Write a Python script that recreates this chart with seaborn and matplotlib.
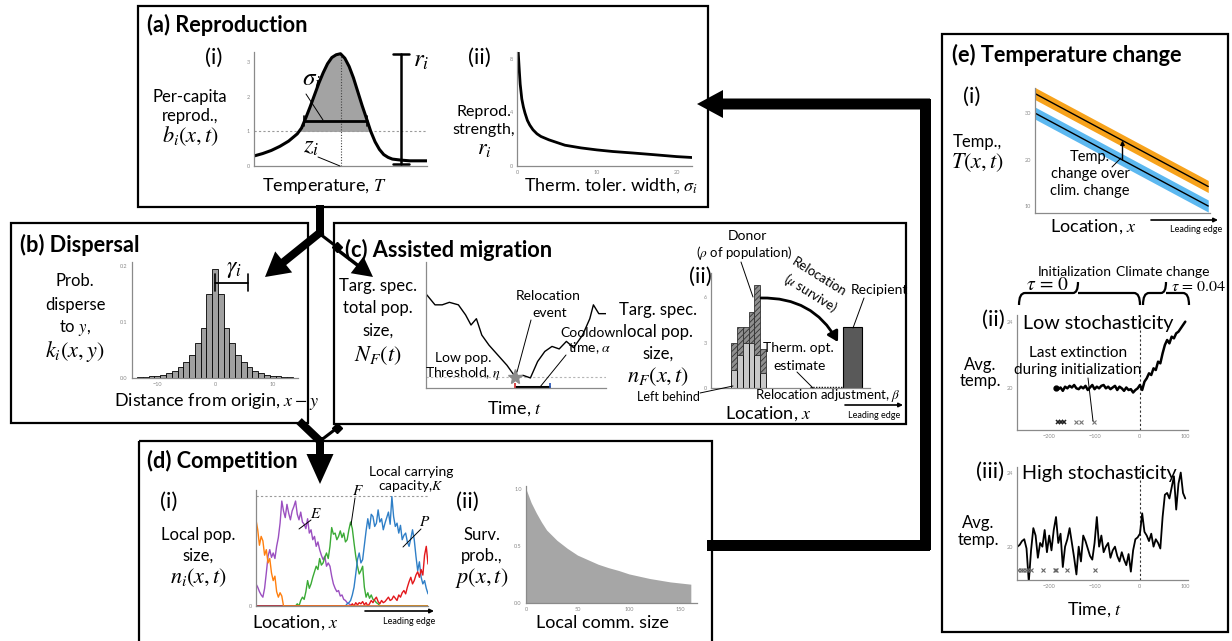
import matplotlib
matplotlib.use("Agg")
import numpy as np
import pandas as pd
import matplotlib.pyplot as plt
import seaborn as sns
from matplotlib.patches import FancyArrow, FancyArrowPatch, Rectangle, PathPatch, Polygon
from matplotlib.path import Path

# ---------------- data ----------------
# (a)(i) per-capita reproduction against temperature
temperature = [0.0, 0.5, 1.0, 1.5, 2.0, 2.5, 2.75, 3.0, 3.25, 3.5, 3.75, 4.0, 4.25, 4.5, 4.75, 5.0,
               5.25, 5.5, 5.75, 6.0, 6.25, 6.5, 6.75, 7.0, 7.25, 7.5, 7.75, 8.0, 8.5, 9.0, 10.0]
birth_rate = [0.29, 0.36, 0.45, 0.57, 0.72, 0.93, 1.10, 1.40, 1.72, 2.06, 2.40, 2.70, 2.96, 3.14, 3.22, 3.25,
              3.12, 2.88, 2.55, 2.15, 1.75, 1.38, 1.00, 0.70, 0.48, 0.33, 0.25, 0.20, 0.17, 0.15, 0.15]
# (a)(ii) reproductive strength against thermal tolerance width
tol_width = [0.15, 0.3, 0.4, 0.6, 0.8, 1.0, 1.3, 1.6, 2.0, 2.5, 3.0, 4.0, 5.0, 6.0, 8.0, 10.0, 12.0, 14.5,
             17.0, 20.0, 22.0]
repro_strength = [8.5, 7.0, 6.1, 5.0, 4.4, 3.95, 3.4, 3.05, 2.7, 2.4, 2.2, 1.95, 1.75, 1.55, 1.35, 1.2, 1.08,
                  0.97, 0.85, 0.7, 0.63]
# (b) dispersal kernel
disp_dist = list(range(-13, 14))
disp_prob = [0.001, 0.002, 0.003, 0.004, 0.006, 0.009, 0.013, 0.019, 0.028, 0.041, 0.062, 0.090, 0.150,
             0.195,
             0.150, 0.090, 0.062, 0.041, 0.028, 0.019, 0.013, 0.009, 0.006, 0.004, 0.003, 0.002, 0.001]
# (c)(i) total population of the focal species over time
am_time = [0.4, 5, 9, 13, 18, 22, 25, 28, 31, 35, 40, 45, 49.5, 54, 58, 62, 66, 70, 74, 78, 82, 87, 91, 93, 96, 100]
am_pop = [7.4, 6.6, 6.6, 6.8, 6.6, 5.8, 5.0, 5.5, 4.2, 3.4, 2.6, 1.8, 0.9, 1.0, 0.8, 2.1, 2.9, 3.3, 3.1, 3.7,
          3.2, 4.2, 5.5, 6.6, 5.9, 5.9]
low_threshold = 0.9
relocation_time = 49.5
cooldown_end = 69
# (c)(ii) local population of the focal species
donor_loc = [4, 5, 6, 7, 8, 9]
left_behind = [1.2, 2.2, 3.0, 3.0, 2.2, 1.0]
donor_total = [3.0, 4.0, 4.0, 5.0, 6.8, 2.6]
recipient_loc = 24.5
recipient_pop = 4.0
therm_opt_estimate = 17.2
# (d)(i) local population sizes along the landscape
location = list(range(101))
pop_orange = [7.8, 6.9, 5.5, 6.3, 5.9, 4.6, 5.1, 3.9, 4.3, 3.0, 2.3, 2.7, 1.3, 0.8, 1.2, 0.9] + [0.0] * 85
pop_purple = ([2.0, 1.7, 1.3, 1.0, 0.8, 1.6, 3.0, 4.5, 5.1, 4.4, 4.8, 4.3, 5.4, 6.2, 7.5, 9.5, 8.6, 8.0, 9.2, 8.4,
               7.8, 8.6, 9.0, 9.5, 8.3, 7.8, 8.5, 7.6, 7.4, 7.0, 7.9, 6.6, 6.9, 6.0, 6.3, 5.4, 5.8, 5.1, 4.6, 4.2,
               4.5, 3.6, 3.9, 3.6, 2.7, 2.0, 1.6, 1.3, 1.4, 0.9, 1.0, 0.6, 0.5, 0.3, 0.2, 0.1] + [0.0] * 45)
pop_green = ([0.0] * 24 +
             [0.2, 0.0, 0.5, 0.8, 0.6, 1.3, 2.3, 1.6, 2.0, 2.6, 3.1, 3.6, 3.3, 4.3, 3.7, 3.9, 4.4, 4.8, 4.3, 5.4,
              7.1, 6.5, 6.6, 6.0, 6.3, 6.8, 6.2, 6.6, 5.8, 6.0, 6.9, 7.6, 7.0, 5.7, 4.5, 3.6, 2.9, 3.2, 3.6, 1.7,
              0.8, 1.2, 0.7, 1.0, 0.6, 0.5, 0.3, 0.2] + [0.0] * 29)
pop_blue = ([0.0] * 53 +
            [0.2, 0.3, 0.5, 1.0, 1.7, 2.9, 4.2, 4.8, 3.9, 4.2, 5.5, 6.8, 7.9, 7.0, 8.3, 8.1, 7.2, 7.5, 8.7, 7.6,
             7.9, 6.9, 7.5, 8.0, 8.5, 7.4, 9.9, 8.1, 7.2, 7.5, 6.6, 7.3, 6.0, 6.4, 6.6, 5.8, 5.4, 6.1, 6.9, 6.0,
             4.5, 3.2, 4.0, 2.6, 2.0, 2.3, 1.6, 1.1])
pop_red = ([0.0] * 56 +
           [0.2, 0.0, 0.3, 0.1, 0.3, 0.2, 0.4, 0.1, 0.3, 0.0, 0.2, 0.5, 0.3, 0.6, 0.8, 0.4, 0.2, 0.5, 0.3, 0.4,
            0.6, 0.8, 0.5, 0.6, 0.9, 0.7, 0.5, 1.0, 0.8, 1.2, 1.4, 1.1, 1.7, 2.2, 2.6, 2.0, 2.3, 2.8, 3.1, 2.6,
            3.3, 2.8, 4.6, 5.4, 3.8])
carrying_capacity = 10
# (d)(ii) survival probability against local community size
comm_size = [0, 5, 10, 15, 20, 30, 40, 50, 60, 70, 80, 90, 100, 110, 120, 130, 140, 150, 160]
surv_prob = [1.0, 0.88, 0.79, 0.71, 0.64, 0.55, 0.48, 0.42, 0.38, 0.34, 0.31, 0.285, 0.255, 0.235, 0.215,
             0.20, 0.185, 0.175, 0.165]
# (e)(i) temperature gradient before / after climate change
grad_loc = [0, 99]
temp_before = [30.0, 10.0]
temp_after = [34.2, 14.2]
temp_spread = 1.3
# (e)(ii) average temperature, low stochasticity
low_time = list(range(-185, 101, 5))
low_temp = [20.0, 19.95, 20.05, 19.85, 20.1, 20.0, 20.15, 20.05, 20.2, 20.0, 19.95, 20.1, 20.0, 20.15, 19.9,
            20.05, 20.2, 19.95, 20.1, 20.0, 20.15, 20.2, 20.0, 20.1, 19.95, 20.05, 20.15, 19.9, 20.1, 20.0,
            19.85, 20.05, 19.9, 19.95, 19.75, 19.9, 20.0, 20.2, 19.9, 20.4, 20.6, 20.9, 20.8, 21.2, 21.1,
            21.6, 21.5, 22.1, 22.6, 22.9, 22.7, 23.1, 23.0, 23.3, 23.4, 23.6, 23.8, 24.0]
low_extinct = [-181, -175, -168, -142, -130, -102]
# (e)(iii) average temperature, high stochasticity
high_time = list(range(-270, 101, 5))
high_temp = [20.0, 20.1, 20.3, 20.4, 19.9, 18.1, 19.8, 21.0, 20.6, 19.4, 20.2, 20.0, 20.9, 19.7, 20.6, 19.8,
             20.9, 21.6, 20.2, 20.7, 18.9, 20.0, 20.4, 21.0, 20.2, 19.4, 18.5, 20.0, 19.2, 20.6, 20.3, 19.9,
             19.5, 19.3, 20.2, 21.6, 20.0, 20.6, 19.7, 20.0, 20.2, 19.4, 19.8, 20.0, 19.5, 19.2, 19.7, 19.3,
             19.0, 19.6, 18.65, 19.8, 20.4, 20.5, 20.7, 21.8, 20.8, 20.6, 20.3, 20.7, 20.0, 20.4, 20.2, 19.9,
             21.6, 22.8, 22.9, 22.6, 23.2, 23.8, 22.0, 23.4, 24.0, 22.9, 22.6]
high_extinct = [-268, -262, -257, -252, -246, -240, -214, -188, -184, -161, -100]

# ---------------- figure ----------------
sns.set_theme(style="white")
plt.rcParams["font.family"] = ["Lato", "DejaVu Sans"]
plt.rcParams["mathtext.fontset"] = "stix"
plt.rcParams["hatch.color"] = "#333333"
plt.rcParams["hatch.linewidth"] = 0.6

W, H = 1232, 641
fig = plt.figure(figsize=(W / 100, H / 100), dpi=100)
fig.patch.set_facecolor("white")
AXC = "#8a8a8a"

# text sizes
T_TITLE, T_SUB, T_LAB, T_YL, T_MATH, T_NOTE, T_TINY = 15.7, 16, 13, 12, 16, 10, 6.5


def px_axes(x0, y0, x1, y1):
    return fig.add_axes([x0 / W, 1 - y1 / H, (x1 - x0) / W, (y1 - y0) / H])


def style(ax, xlim, ylim, xticks=(), yticks=(), xlabels=None, ylabels=None):
    sns.despine(ax=ax)
    for s in ("left", "bottom"):
        ax.spines[s].set_color(AXC)
        ax.spines[s].set_linewidth(0.9)
    ax.set_xlim(*xlim)
    ax.set_ylim(*ylim)
    ax.set_xticks(list(xticks))
    ax.set_yticks(list(yticks))
    if xlabels is not None:
        ax.set_xticklabels(xlabels)
    if ylabels is not None:
        ax.set_yticklabels(ylabels)
    ax.tick_params(labelsize=4, colors=AXC, length=2, width=0.6, pad=1)
    ax.tick_params(which="minor", length=1.5, width=0.5, colors=AXC)
    ax.set_xlabel("")
    ax.set_ylabel("")
    ax.patch.set_alpha(0)
    ax.grid(False)


# (a)(i)
ax = px_axes(254, 52, 427, 166)
tb = np.array(birth_rate)
ax.fill_between(temperature, 1, tb, where=tb >= 1, interpolate=True, color="#a3a3a3", lw=0)
ax.axhline(1, color="#9a9a9a", ls=(0, (2, 2)), lw=0.8)
ipk = int(np.argmax(tb))
z_opt, b_max = temperature[ipk], tb[ipk]
ax.plot([z_opt, z_opt], [0, b_max], color="#444444", ls=(0, (1, 1.5)), lw=0.8)
sns.lineplot(x=temperature, y=birth_rate, ax=ax, color="black", lw=2.2)
sig_level = 1.3
s_left = np.interp(sig_level, tb[:ipk + 1], temperature[:ipk + 1])
s_right = np.interp(sig_level, tb[ipk:][::-1], temperature[ipk:][::-1])
ax.plot([s_left, s_right], [sig_level, sig_level], color="black", lw=2)
for sx in (s_left, s_right):
    ax.plot([sx, sx], [sig_level - 0.15, sig_level + 0.15], color="black", lw=1.2)
r_x = 8.5
ax.plot([r_x, r_x], [0.06, b_max], color="black", lw=1.8)
for ry in (0.06, b_max):
    ax.plot([r_x - 0.45, r_x + 0.45], [ry, ry], color="black", lw=1.8)
style(ax, (0, 10), (0, 3.3), yticks=[0, 1, 2, 3])

# (a)(ii)
ax = px_axes(517, 52, 692, 166)
sns.lineplot(x=tol_width, y=repro_strength, ax=ax, color="black", lw=2.0)
style(ax, (0, 21.9), (0, 8.5), xticks=[0, 10, 20], yticks=[0, 4, 8])

# (b)
ax = px_axes(132, 262, 298, 378)
kernel = pd.DataFrame({"dist": disp_dist, "prob": disp_prob})
sns.histplot(data=kernel, x="dist", weights="prob", discrete=True, ax=ax,
             color="#a0a0a0", edgecolor="black", linewidth=0.6, alpha=1)
gy = 0.17
ax.plot([0, 5.7], [gy, gy], color="black", lw=1.3)
for gx in (0, 5.7):
    ax.plot([gx, gx], [gy - 0.015, gy + 0.015], color="black", lw=1.2)
style(ax, (-14.4, 14.4), (0, 0.207), xticks=[-10, 0, 10], yticks=[0, 0.1, 0.2],
      ylabels=["0.0", "0.1", "0.2"])

# (c)(i)
ax = px_axes(426, 262, 606, 388)
ax.axhline(low_threshold, color="#b5b5b5", ls=(0, (2, 2)), lw=0.8)
sns.lineplot(x=am_time, y=am_pop, ax=ax, color="black", lw=1.0)
ax.plot([relocation_time, cooldown_end], [0.08, 0.08], color="black", lw=2.2, solid_capstyle="butt",
        clip_on=False)
ax.plot([relocation_time], [0.15], marker="|", color="#d62728", ms=4, mew=1.2, clip_on=False)
ax.plot([cooldown_end], [0.15], marker="|", color="#1f4fb4", ms=4, mew=1.2, clip_on=False)
ax.plot([relocation_time], [low_threshold], marker="*", color="#8c8c8c", ms=11, mec="#8c8c8c")
style(ax, (0, 100), (0, 10), yticks=[0, 4.25, 8.5], ylabels=["", "", ""])
ax.set_xticks(np.arange(0, 101, 4), minor=True)

# (c)(ii)
ax = px_axes(711, 273, 870, 388)
ax.bar(donor_loc, left_behind, width=1, color="#c8c8c8", edgecolor="black", lw=0.6)
ax.bar(donor_loc, np.array(donor_total) - np.array(left_behind), bottom=left_behind, width=1,
       color="#8f8f8f", hatch="//////", edgecolor="#333333", lw=0.6)
ax.bar([recipient_loc], [recipient_pop], width=3.4, color="#595959", edgecolor="black", lw=0.8)
ax.plot([therm_opt_estimate, recipient_loc - 1.7], [0.05, 0.05], color="black", lw=1.0,
        ls=(0, (1, 1)), clip_on=False)
style(ax, (0, 27.5), (0, 7.6), yticks=[0, 3, 6])
ax.set_xticks(np.arange(0, 28, 1), minor=True)

# (d)(i)
ax = px_axes(256, 490, 428, 606)
comp = pd.DataFrame({
    "location": location * 5,
    "size": pop_purple + pop_green + pop_blue + pop_red + pop_orange,
    "species": ["E"] * 101 + ["F"] * 101 + ["P"] * 101 + ["R"] * 101 + ["O"] * 101,
})
ax.axhline(carrying_capacity, color="#9a9a9a", ls=(0, (2, 2)), lw=0.8)
sns.lineplot(data=comp, x="location", y="size", hue="species", hue_order=["E", "F", "P", "R", "O"],
             palette=["#9b4fc0", "#3aaa35", "#2f7fc7", "#e3171b", "#ff7f0e"], lw=1.0, legend=False, ax=ax)
style(ax, (0, 100), (0, 10.5), yticks=[0])
ax.set_xticks(np.arange(0, 101, 2), minor=True)

# (d)(ii)
ax = px_axes(526, 486, 697, 603)
ax.fill_between(comm_size, 0, surv_prob, color="#a6a6a6", lw=0)
style(ax, (0, 166), (0, 1.026), xticks=[0, 50, 100, 150], yticks=[0, 0.5, 1.0],
      ylabels=["0.0", "0.5", "1.0"])

# (e)(i)
ax = px_axes(1035, 88, 1210, 213)
ax.fill_between(grad_loc, np.array(temp_before) - temp_spread, np.array(temp_before) + temp_spread,
                color="#5cb8f0", lw=0)
ax.fill_between(grad_loc, np.array(temp_after) - temp_spread, np.array(temp_after) + temp_spread,
                color="#f7a21b", lw=0)
sns.lineplot(x=grad_loc, y=temp_before, ax=ax, color="black", lw=1.0)
sns.lineplot(x=grad_loc, y=temp_after, ax=ax, color="black", lw=1.0)
mid = 50
ax.annotate("", xy=(mid, np.interp(mid, grad_loc, temp_after)), xytext=(mid, np.interp(mid, grad_loc, temp_before)),
            arrowprops=dict(arrowstyle="-|>", color="black", lw=1.0, mutation_scale=6, shrinkA=0, shrinkB=0))
style(ax, (0, 100), (8.5, 35.4), xticks=[25, 50, 75], yticks=[10, 20, 30], xlabels=["", "", ""])

# (e)(ii)
ax = px_axes(1017, 315, 1188, 430)
ax.axvline(0, color="#333333", ls=(0, (2, 2)), lw=0.8)
sns.lineplot(x=low_time, y=low_temp, ax=ax, color="black", lw=1.8)
ax.plot([low_time[0]], [low_temp[0]], "o", color="black", ms=3.5)
ax.plot(low_extinct[:3], [18.0] * 3, "x", color="#222222", ms=3.5, mew=1.1)
ax.plot(low_extinct[3:], [18.0] * 3, "x", color="#777777", ms=3.5, mew=0.8)
style(ax, (-271, 106), (17.5, 24.4), xticks=[-200, -100, 0, 100], yticks=[20, 24])

# (e)(iii)
ax = px_axes(1017, 467, 1188, 580)
ax.axvline(0, color="#333333", ls=(0, (2, 2)), lw=0.8)
sns.lineplot(x=high_time, y=high_temp, ax=ax, color="black", lw=1.3)
ax.plot(high_extinct, [18.75] * len(high_extinct), "x", color="#666666", ms=3.5, mew=0.8)
style(ax, (-271, 106), (18.2, 24.3), xticks=[-200, -100, 0, 100], yticks=[20, 24])

# ---------------- overlay: boxes, arrows, text ----------------
ov = fig.add_axes([0, 0, 1, 1])
ov.set_xlim(0, W)
ov.set_ylim(H, 0)
ov.axis("off")
ov.patch.set_alpha(0)


def box(x0, y0, x1, y1, lw=1.6):
    ov.add_patch(Rectangle((x0, y0), x1 - x0, y1 - y0, fill=False, ec="black", lw=lw))


def txt(x, y, s, size=T_LAB, ha="center", va="center", **kw):
    ov.text(x, y, s, fontsize=size, ha=ha, va=va, color="black", **kw)


def lead(x0, y0, x1, y1, lw=0.7):
    ov.plot([x0, x1], [y0, y1], color="black", lw=lw)


def thick(x0, y0, x1, y1, w):
    d = np.array([x1 - x0, y1 - y0], float)
    n = np.array([-d[1], d[0]]) / np.hypot(*d) * w / 2
    pts = [(x0 + n[0], y0 + n[1]), (x1 + n[0], y1 + n[1]), (x1 - n[0], y1 - n[1]), (x0 - n[0], y0 - n[1])]
    ov.add_patch(Polygon(pts, closed=True, color="black", lw=0))


def big_arrow(x0, y0, x1, y1, w, hw, hl):
    ov.add_patch(FancyArrow(x0, y0, x1 - x0, y1 - y0, width=w, head_width=hw, head_length=hl,
                            length_includes_head=True, color="black", lw=0))


def small_arrow(x0, y0, x1, y1, lw=1.3, ms=7):
    ov.annotate("", xy=(x1, y1), xytext=(x0, y0),
                arrowprops=dict(arrowstyle="-|>", color="black", lw=lw, mutation_scale=ms, shrinkA=0, shrinkB=0))


box(138, 6, 708, 207)
box(11, 223, 308, 423)
box(334, 223, 906, 424)
box(139, 441, 712, 660)
box(942, 34, 1228, 632)

# arrows between panels
thick(320, 205, 320, 236, 8)
big_arrow(322, 231, 265, 277, 8, 27, 24)
ov.plot([320, 337], [234, 247], color="black", lw=2.2)
ov.plot([337], [247], marker="D", color="black", ms=5)
big_arrow(339, 251, 373, 277, 3.5, 21, 20)
thick(299, 421, 321, 442, 8)
ov.plot([337, 320], [428, 441], color="black", lw=2.2)
ov.plot([337], [428], marker="D", color="black", ms=5)
big_arrow(320, 437, 320, 484, 8, 27, 30)
thick(707, 545, 930, 545, 11)
thick(925, 550, 925, 99, 11)
big_arrow(930, 104, 697, 104, 11, 28, 26)

# (a) text
txt(147, 25, "(a) Reproduction", size=T_TITLE, ha="left", weight="bold")
txt(214, 58, "(i)", size=T_SUB)
txt(190, 97, "Per-capita", size=T_YL)
txt(190, 116, "reprod.,", size=T_YL)
txt(190, 136, r"$b_i(x,t)$", size=T_MATH)
txt(324, 186, r"Temperature, $T$", size=T_LAB)
txt(312, 79, r"$\sigma_i$", size=18)
lead(306, 94, 323, 120)
txt(311, 147, r"$z_i$", size=18)
lead(318, 157, 340, 166)
txt(421, 60, r"$r_i$", size=18)
txt(479, 58, "(ii)", size=T_SUB)
txt(484, 112, "Reprod.", size=11.5)
txt(484, 130, "strength,", size=11.5)
txt(484, 149, r"$r_i$", size=T_MATH)
txt(611, 186, r"Therm. toler. width, $\sigma_i$", size=T_LAB)

# (b) text
txt(20, 245, "(b) Dispersal", size=T_TITLE, ha="left", weight="bold")
txt(75, 281, "Prob.", size=T_YL)
txt(75, 305, "disperse", size=T_YL)
txt(75, 328, r"to $y$,", size=T_YL)
txt(75, 352, r"$k_i(x,y)$", size=T_MATH)
txt(234, 269, r"$\gamma_i$", size=17)
txt(217, 402, r"Distance from origin, $x-y$", size=T_LAB)

# (c) text
txt(345, 250, "(c) Assisted migration", size=T_TITLE, ha="left", weight="bold")
txt(378, 286, "Targ. spec.", size=T_YL)
txt(378, 308, "total pop.", size=T_YL)
txt(378, 331, "size,", size=T_YL)
txt(378, 356, r"$N_F(t)$", size=T_MATH)
txt(548, 296, "Relocation", size=T_NOTE)
txt(550, 313, "event", size=T_NOTE)
lead(531, 320, 517, 372)
txt(592, 333, "Cooldown", size=T_NOTE)
txt(590, 348, r"time, $\alpha$", size=T_NOTE)
lead(566, 355, 540, 387)
txt(463, 358, "Low pop.", size=T_NOTE)
txt(463, 373, r"Threshold, $\eta$", size=T_NOTE)
txt(515, 409, r"Time, $t$", size=T_LAB)
txt(700, 277, "(ii)", size=T_SUB)
txt(658, 310, "Targ. spec.", size=T_YL)
txt(658, 332, "local pop.", size=T_YL)
txt(658, 354, "size,", size=T_YL)
txt(658, 377, r"$n_F(x,t)$", size=T_MATH)
txt(747, 236, "Donor", size=T_NOTE)
txt(744, 253, r"($\rho$ of population)", size=9.5)
lead(741, 262, 753, 297)
txt(819, 277, "Relocation", size=9.5, rotation=-32)
txt(810, 293, r"($\mu$ survive)", size=9.5, rotation=-32)
ov.add_patch(FancyArrowPatch((761, 298), (838, 342), connectionstyle="arc3,rad=-0.3",
                             arrowstyle="-|>,head_length=6,head_width=3.5", lw=2, color="black",
                             shrinkA=0, shrinkB=0))
txt(879, 290, "Recipient", size=T_NOTE)
lead(864, 298, 853, 328)
txt(798, 348, "Therm. opt.", size=T_NOTE)
txt(800, 366, "estimate", size=T_NOTE)
lead(797, 372, 813, 388)
txt(668, 397, "Left behind", size=9)
lead(700, 393, 733, 386)
txt(828, 395, r"Relocation adjustment, $\beta$", size=9.5)
txt(768, 414, r"Location, $x$", size=T_LAB)
small_arrow(845, 405, 903, 405, lw=1.2, ms=6)
txt(874, 415, "Leading edge", size=T_TINY)

# (d) text
txt(147, 461, "(d) Competition", size=T_TITLE, ha="left", weight="bold")
txt(169, 502, "(i)", size=T_SUB)
txt(198, 535, "Local pop.", size=T_YL)
txt(198, 556, "size,", size=T_YL)
txt(198, 578, r"$n_i(x,t)$", size=T_MATH)
txt(411, 472, "Local carrying", size=T_NOTE)
txt(411, 486, r"capacity,$K$", size=T_NOTE)
txt(316, 514, r"$E$", size=11)
lead(311, 520, 299, 529)
txt(358, 491, r"$F$", size=11)
lead(355, 498, 351, 525)
txt(425, 522, r"$P$", size=11)
lead(421, 529, 403, 547)
txt(295, 623, r"Location, $x$", size=T_LAB)
small_arrow(365, 611, 434, 611, lw=1.2, ms=6)
txt(409, 621, "Leading edge", size=T_TINY)
txt(467, 502, "(ii)", size=T_SUB)
txt(482, 535, "Surv.", size=T_YL)
txt(482, 556, "prob.,", size=T_YL)
txt(482, 578, r"$p(x,t)$", size=T_MATH)
txt(602, 623, "Local comm. size", size=T_LAB)

# (e) text
txt(952, 55, "(e) Temperature change", size=T_TITLE, ha="left", weight="bold")
txt(972, 97, "(i)", size=T_SUB)
txt(977, 142, "Temp.,", size=T_YL)
txt(977, 163, r"$T(x,t)$", size=T_MATH)
txt(1090, 157, "Temp.", size=10.5)
txt(1090, 174, "change over", size=10.5)
txt(1090, 191, "clim. change", size=10.5)
lead(1112, 167, 1121, 158)
txt(1093, 227, r"Location, $x$", size=T_LAB)
small_arrow(1151, 220, 1218, 220, lw=1.2, ms=6)
txt(1196, 229, "Leading edge", size=T_TINY)
txt(1075, 272, "Initialization", size=10)
txt(1163, 272, "Climate change", size=10)
txt(1048, 285, r"$\tau\,=\,0$", size=14)
txt(1199, 287, r"$\tau\,=\,0.04$", size=11.5)


def brace(x0, x1, xm, y_top, y_end, y_spike):
    verts = [(x0, y_end), (x0, y_top), (x0 + 6, y_top), (xm - 5, y_top), (xm, y_top), (xm, y_spike),
             (xm, y_top), (xm + 5, y_top), (x1 - 6, y_top), (x1, y_top), (x1, y_end)]
    codes = [Path.MOVETO, Path.CURVE3, Path.CURVE3, Path.LINETO, Path.CURVE3, Path.CURVE3,
             Path.MOVETO, Path.LINETO, Path.LINETO, Path.CURVE3, Path.CURVE3]
    ov.add_patch(PathPatch(Path(verts, codes), fill=False, ec="black", lw=1.6))


brace(1019, 1140, 1078, 293, 305, 282)
brace(1143, 1189, 1166, 293, 305, 282)
txt(993, 320, "(ii)", size=T_SUB)
txt(1023, 323, "Low stochasticity", size=14.2, ha="left")
txt(980, 365, "Avg.", size=T_YL)
txt(980, 381, "temp.", size=T_YL)
txt(1078, 353, "Last extinction", size=11)
txt(1078, 370, "during initialization", size=11)
lead(1088, 378, 1093, 421)
txt(990, 472, "(iii)", size=T_SUB)
txt(1022, 473, "High stochasticity", size=14.2, ha="left")
txt(978, 523, "Avg.", size=T_YL)
txt(978, 540, "temp.", size=T_YL)
txt(1095, 610, r"Time, $t$", size=T_LAB)

fig.savefig("out.png", dpi=100, facecolor="white")
